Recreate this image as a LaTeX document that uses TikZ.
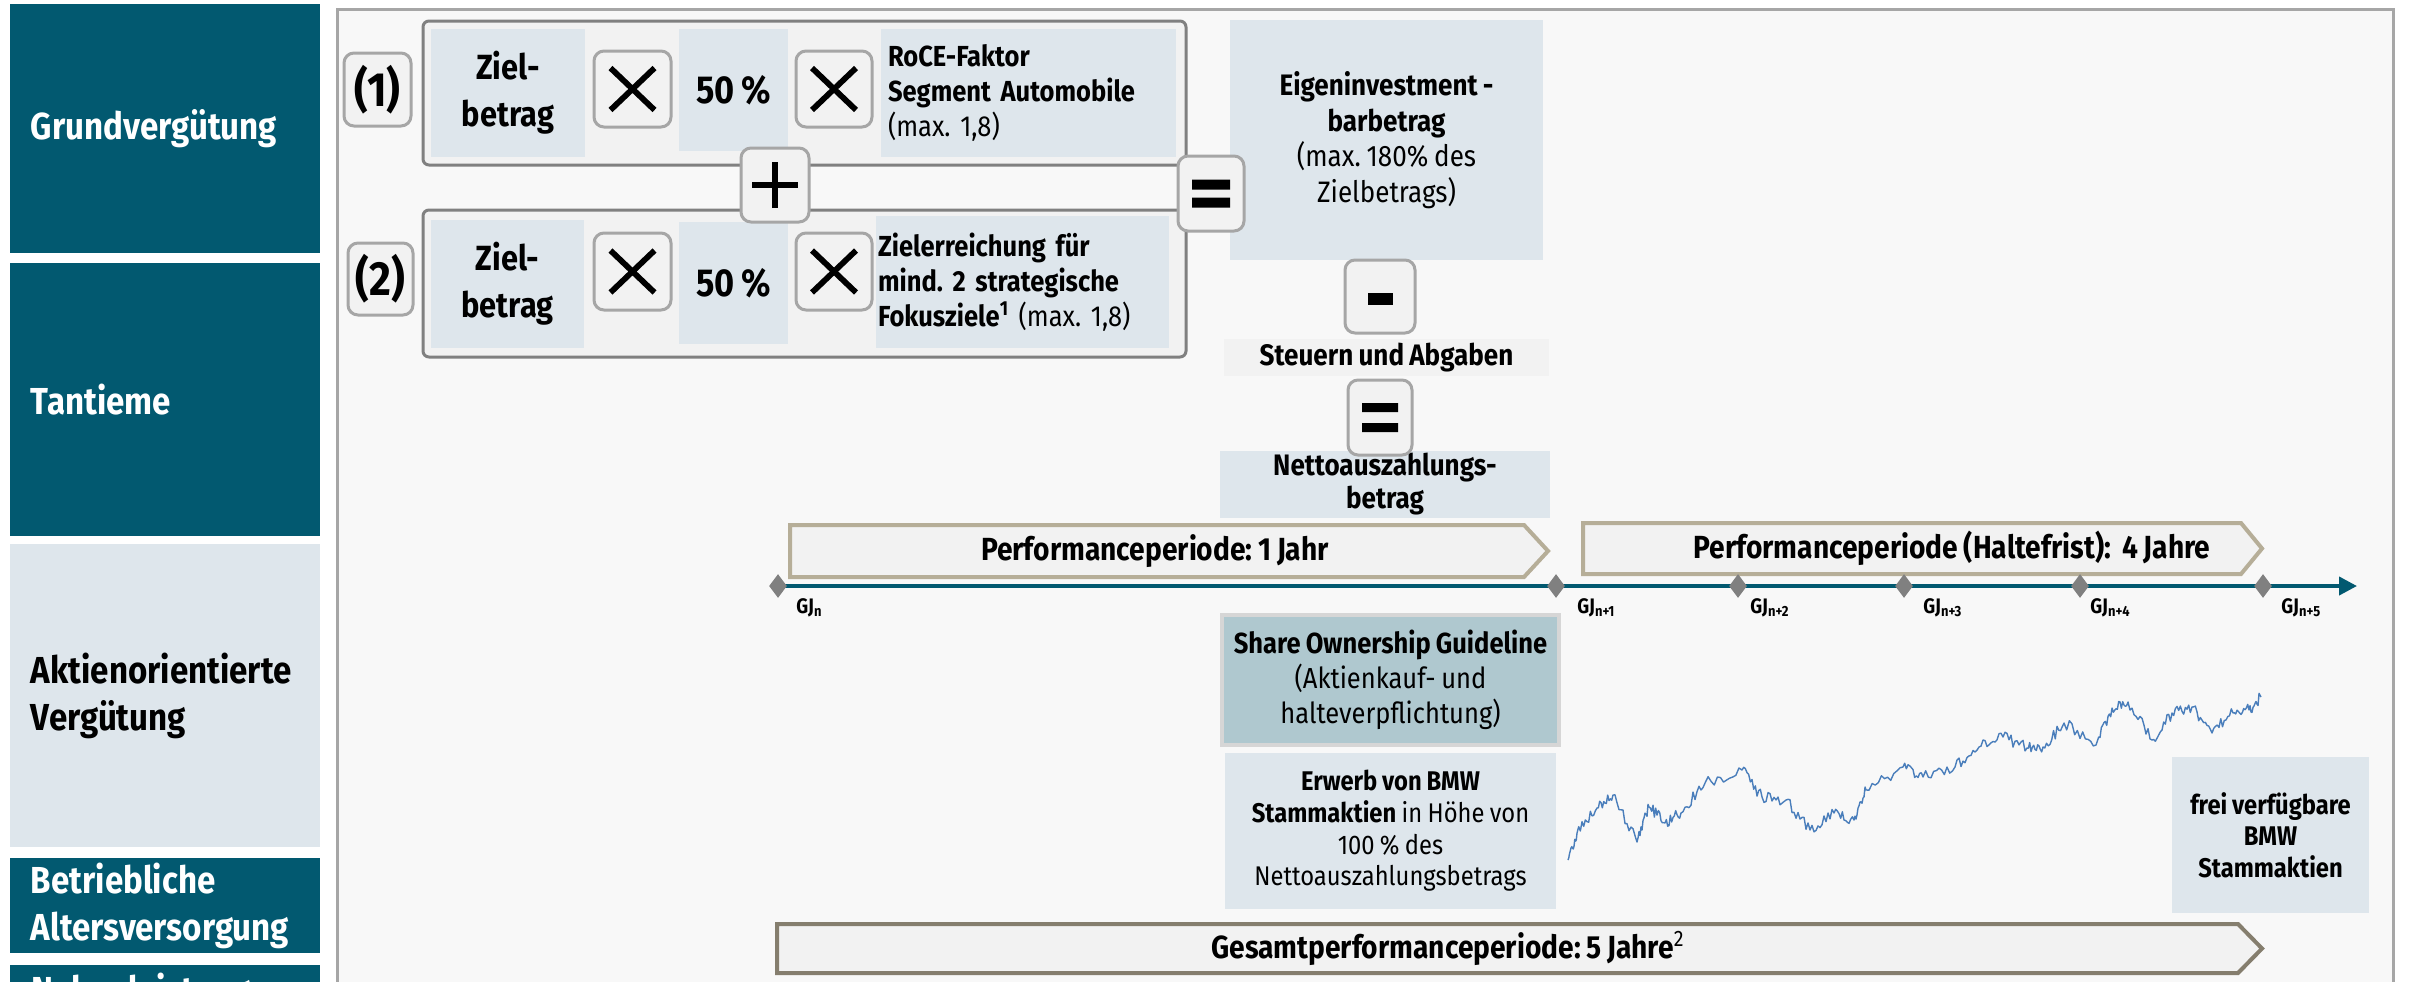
\documentclass[tikz,border=0pt]{standalone}
\usepackage{fontspec}
\setmainfont{Fira Sans}[FakeStretch=0.88, WordSpace=0.85]
\usetikzlibrary{shapes.geometric,arrows.meta}
\definecolor{bmwteal}{RGB}{2,89,112}
\definecolor{lightbox}{RGB}{222,230,236}
\definecolor{panelbg}{RGB}{248,248,248}
\definecolor{opfill}{RGB}{242,242,242}
\definecolor{opline}{RGB}{166,166,166}
\definecolor{grpline}{RGB}{128,128,128}
\definecolor{sharefill}{RGB}{175,200,207}
\definecolor{shareline}{RGB}{214,214,214}
\definecolor{perfline}{RGB}{182,174,152}
\definecolor{gesline}{RGB}{133,126,110}
\definecolor{diamgray}{RGB}{128,128,128}
\definecolor{stockblue}{RGB}{74,126,187}
\newcommand\fLeft{\fontsize{18.8}{23.5}\selectfont\bfseries}
\newcommand\fZiel{\fontsize{17.5}{23.5}\selectfont\bfseries}
\newcommand\fPct{\fontsize{19.5}{22}\selectfont\bfseries}
\newcommand\fLbl{\fontsize{24}{26}\selectfont\bfseries}
\newcommand\fSmall{\fontsize{14.5}{17.5}\selectfont}
\newcommand\fMid{\fontsize{14.8}{17.8}\selectfont}
\newcommand\fNet{\fontsize{14.8}{16.5}\selectfont\bfseries}
\newcommand\fPerf{\fontsize{16}{19}\selectfont\bfseries}
\newcommand\fGJ{\fontsize{10.5}{11}\selectfont\bfseries}
\newcommand\fShare{\fontsize{14.5}{17.5}\selectfont}
\newcommand\fErw{\fontsize{13.5}{15.8}\selectfont}
\newcommand\mybox[7]{\node[#6, minimum width={(#4-#2)*0.5pt}, minimum height={(#5-#3)*0.5pt}] (#1) at ({(#2+#4)/2},{(#3+#5)/2}) {#7};}
\pgfdeclarelayer{front}
\pgfsetlayers{main,front}
\tikzset{
  leftcol/.style={rectangle, inner sep=0pt, inner xsep=10.5pt, text width=134pt, align=left, font=\fLeft},
  tealbox/.style={leftcol, fill=bmwteal, text=white},
  lightleft/.style={leftcol, fill=lightbox, text=black},
  grp/.style={rectangle, rounded corners=3pt, draw=grpline, line width=1.5pt, fill=opfill},
  inbox/.style={rectangle, fill=lightbox, inner sep=0pt, align=center},
  opbox/.style={rectangle, rounded corners=5pt, draw=opline, line width=1.5pt, fill=opfill, inner sep=0pt},
  xop/.style={opbox, path picture={\draw[draw=black, line width=2.9pt] (path picture bounding box.center) +(-11pt,-10.5pt) -- +(11pt,10.5pt) (path picture bounding box.center) +(-11pt,10.5pt) -- +(11pt,-10.5pt);}},
  plusop/.style={opbox, path picture={\draw[draw=black, line width=2.6pt] (path picture bounding box.center) +(-11.5pt,0pt) -- +(11.5pt,0pt) (path picture bounding box.center) +(0pt,-11.5pt) -- +(0pt,11.5pt);}},
  eqop/.style={opbox, path picture={\fill[fill=black, sharp corners] (path picture bounding box.center) +(-9.5pt,2pt) rectangle +(9.5pt,7pt) (path picture bounding box.center) +(-9.5pt,-2pt) rectangle +(9.5pt,-7pt);}},
  eqop2/.style={opbox, path picture={\fill[fill=black, sharp corners] (path picture bounding box.center) +(-9pt,2.75pt) rectangle +(9pt,7.25pt) (path picture bounding box.center) +(-9pt,-2.75pt) rectangle +(9pt,-7.25pt);}},
  minusop/.style={opbox, path picture={\fill[fill=black, sharp corners] (path picture bounding box.center) +(-6.25pt,-4.2pt) rectangle +(6.25pt,1.8pt);}},
  sharebox/.style={rectangle, fill=sharefill, draw=shareline, line width=2pt, inner sep=0pt, align=center},
  perfarrow/.style={fill=opfill, draw=perfline, line width=2pt},
  gesarrow/.style={fill=opfill, draw=gesline, line width=2pt},
  perftext/.style={font=\fPerf, inner sep=0pt},
  diam/.style={diamond, fill=diamgray, minimum width=9pt, minimum height=12pt, inner sep=0pt},
  gjlabel/.style={font=\fGJ, inner sep=0pt, anchor=base west},
  timeline/.style={draw=bmwteal, line width=2pt, -{Triangle[length=9pt,width=9pt]}},
  stockline/.style={draw=stockblue, line width=0.7pt, line join=round},
}
\begin{document}
\frenchspacing
\begin{tikzpicture}[x=0.5pt,y=-0.5pt]
\useasboundingbox (0,0) rectangle (2412,981);
\clip (0,0) rectangle (2412,981);
% left column
\mybox{grund}{10}{4}{320}{253}{tealbox}{Grundvergütung}
\mybox{tant}{10}{263}{320}{536}{tealbox}{Tantieme}
\mybox{aktie}{10}{544}{320}{847}{lightleft}{Aktienorientierte\\Vergütung}
\mybox{bav}{10}{858}{320}{953}{tealbox}{Betriebliche\\Altersversorgung}
\node[tealbox, anchor=north west, inner ysep=4pt] (neben) at (10,965) {Nebenleistungen};
% panel
\draw[draw=opline, line width=1.5pt, fill=panelbg] (337,9) rectangle (2393,1010);
% groups
\mybox{g1}{423}{21}{1186}{165}{grp}{}
\mybox{g2}{423}{210}{1186}{357}{grp}{}
\mybox{l1}{344}{53}{411}{126}{opbox, font=\fLbl}{(1)}
\mybox{l2}{348}{243}{413}{315}{opbox, font=\fLbl}{(2)}
% row 1
\mybox{z1}{431}{29}{585}{157}{inbox, font=\fZiel}{Ziel-\\betrag}
\mybox{x1a}{594}{51}{671}{127}{xop}{}
\mybox{p1}{679}{29}{788}{151}{inbox, font=\fPct}{50 \%}
\mybox{x1b}{796}{51}{872}{127}{xop}{}
\mybox{r1}{881}{29}{1176}{157}{inbox, align=left, inner xsep=3.5pt, text width=140.5pt, font=\fSmall}{\textbf{RoCE-Faktor}\\\textbf{Segment Automobile}\\(max. 1,8)}
% row 2
\mybox{z2}{431}{220}{584}{348}{inbox, font=\fZiel}{Ziel-\\betrag}
\mybox{x2a}{594}{233}{671}{310}{xop}{}
\mybox{p2}{679}{222}{788}{344}{inbox, font=\fPct}{50 \%}
\mybox{x2b}{796}{233}{872}{310}{xop}{}
\mybox{r2}{876}{216}{1169}{348}{inbox, align=left, inner xsep=1pt, text width=144.5pt, font=\fSmall}{\textbf{Zielerreichung für}\\\textbf{mind. 2 strategische}\\\textbf{Fokusziele\textsuperscript{1}} (max. 1,8)}
\mybox{plus}{741}{148}{809}{222}{plusop}{}
% result column
\mybox{eigen}{1230}{20}{1543}{260}{inbox, font=\fMid}{\textbf{Eigeninvestment -}\\\textbf{barbetrag}\\(max. 180\% des\\Zielbetrags)}
\mybox{eq1}{1178}{156}{1244}{231}{eqop}{}
\mybox{steuer}{1224}{339}{1549}{376}{inbox, fill=opfill, font=\fMid\bfseries}{Steuern und Abgaben}
\mybox{netto}{1220}{451}{1550}{518}{inbox, font=\fNet}{Nettoauszahlungs-\\betrag}
\mybox{minus}{1345}{260}{1415}{333}{minusop}{}
\mybox{eq2}{1348}{380}{1412}{455}{eqop2}{}
% performance arrows
\draw[perfarrow] (790,525) -- (1524,525) -- (1548,551) -- (1524,577) -- (790,577) -- cycle;
\node[perftext] (perf1) at (1155,551) {Performanceperiode: 1 Jahr};
\draw[perfarrow] (1583,523) -- (2241,523) -- (2262,548.5) -- (2241,574) -- (1583,574) -- cycle;
\node[perftext] (perf4) at (1952,548.5) {Performanceperiode (Haltefrist):\ \ 4 Jahre};
\draw[gesarrow] (777,924) -- (2238,924) -- (2262,948.5) -- (2238,973) -- (777,973) -- cycle;
\node[perftext] (perf5) at (1448,948.5) {Gesamtperformanceperiode: 5 Jahre\textsuperscript{\mdseries 2}};
% timeline
\begin{pgfonlayer}{front}
\node[diam] (d0) at (778,586) {};
\node[diam] (d1) at (1556,586) {};
\node[diam] (d2) at (1738,586) {};
\node[diam] (d3) at (1904,586) {};
\node[diam] (d4) at (2080,586) {};
\node[diam] (d5) at (2263,586) {};
\end{pgfonlayer}
\coordinate (tend) at (2357,586);
\draw[timeline] (d0.center) -- (tend);
\node[gjlabel] (gj0) at (796,613) {GJ\textsubscript{n}};
\node[gjlabel] (gj1) at (1577,613) {GJ\textsubscript{n+1}};
\node[gjlabel] (gj2) at (1750,613) {GJ\textsubscript{n+2}};
\node[gjlabel] (gj3) at (1923,613) {GJ\textsubscript{n+3}};
\node[gjlabel] (gj4) at (2090,613) {GJ\textsubscript{n+4}};
\node[gjlabel] (gj5) at (2281,613) {GJ\textsubscript{n+5}};
% share boxes
\mybox{share}{1222}{615}{1559}{745}{sharebox, font=\fShare}{\textbf{Share Ownership Guideline}\\(Aktienkauf- und\\halteverpflichtung)}
\mybox{erwerb}{1225}{753}{1556}{909}{inbox, font=\fErw}{\textbf{Erwerb von BMW}\\\textbf{Stammaktien} in Höhe von\\100 \% des\\Nettoauszahlungsbetrags}
\mybox{frei}{2172}{757}{2369}{913}{inbox, font=\fErw\bfseries}{frei verfügbare\\BMW\\Stammaktien}
% stock chart
\pgfmathsetseed{11}
\draw[stockline] (1568,860) foreach \x/\y [remember=\x as \px (initially 1568), remember=\y as \py (initially 860)] in {1577/833,1597/808,1613/795,1637/842,1649/807,1665/823,1681/813,1705/783,1742/770,1762/797,1786/800,1810/830,1834/813,1854/820,1866/790,1903/767,1923/777,1955/767,1979/747,2003/737,2027/748,2043/747,2064/723,2096/745,2112/708,2128/702,2152/740,2172/713,2192/707,2212/733,2233/713,2249/710,2261/697} { foreach \k in {1,...,12} { -- ({\px+(\x-\px)*\k/12},{\py+(\y-\py)*\k/12+6*rand*(\k<12)}) } };
\end{tikzpicture}
\end{document}
